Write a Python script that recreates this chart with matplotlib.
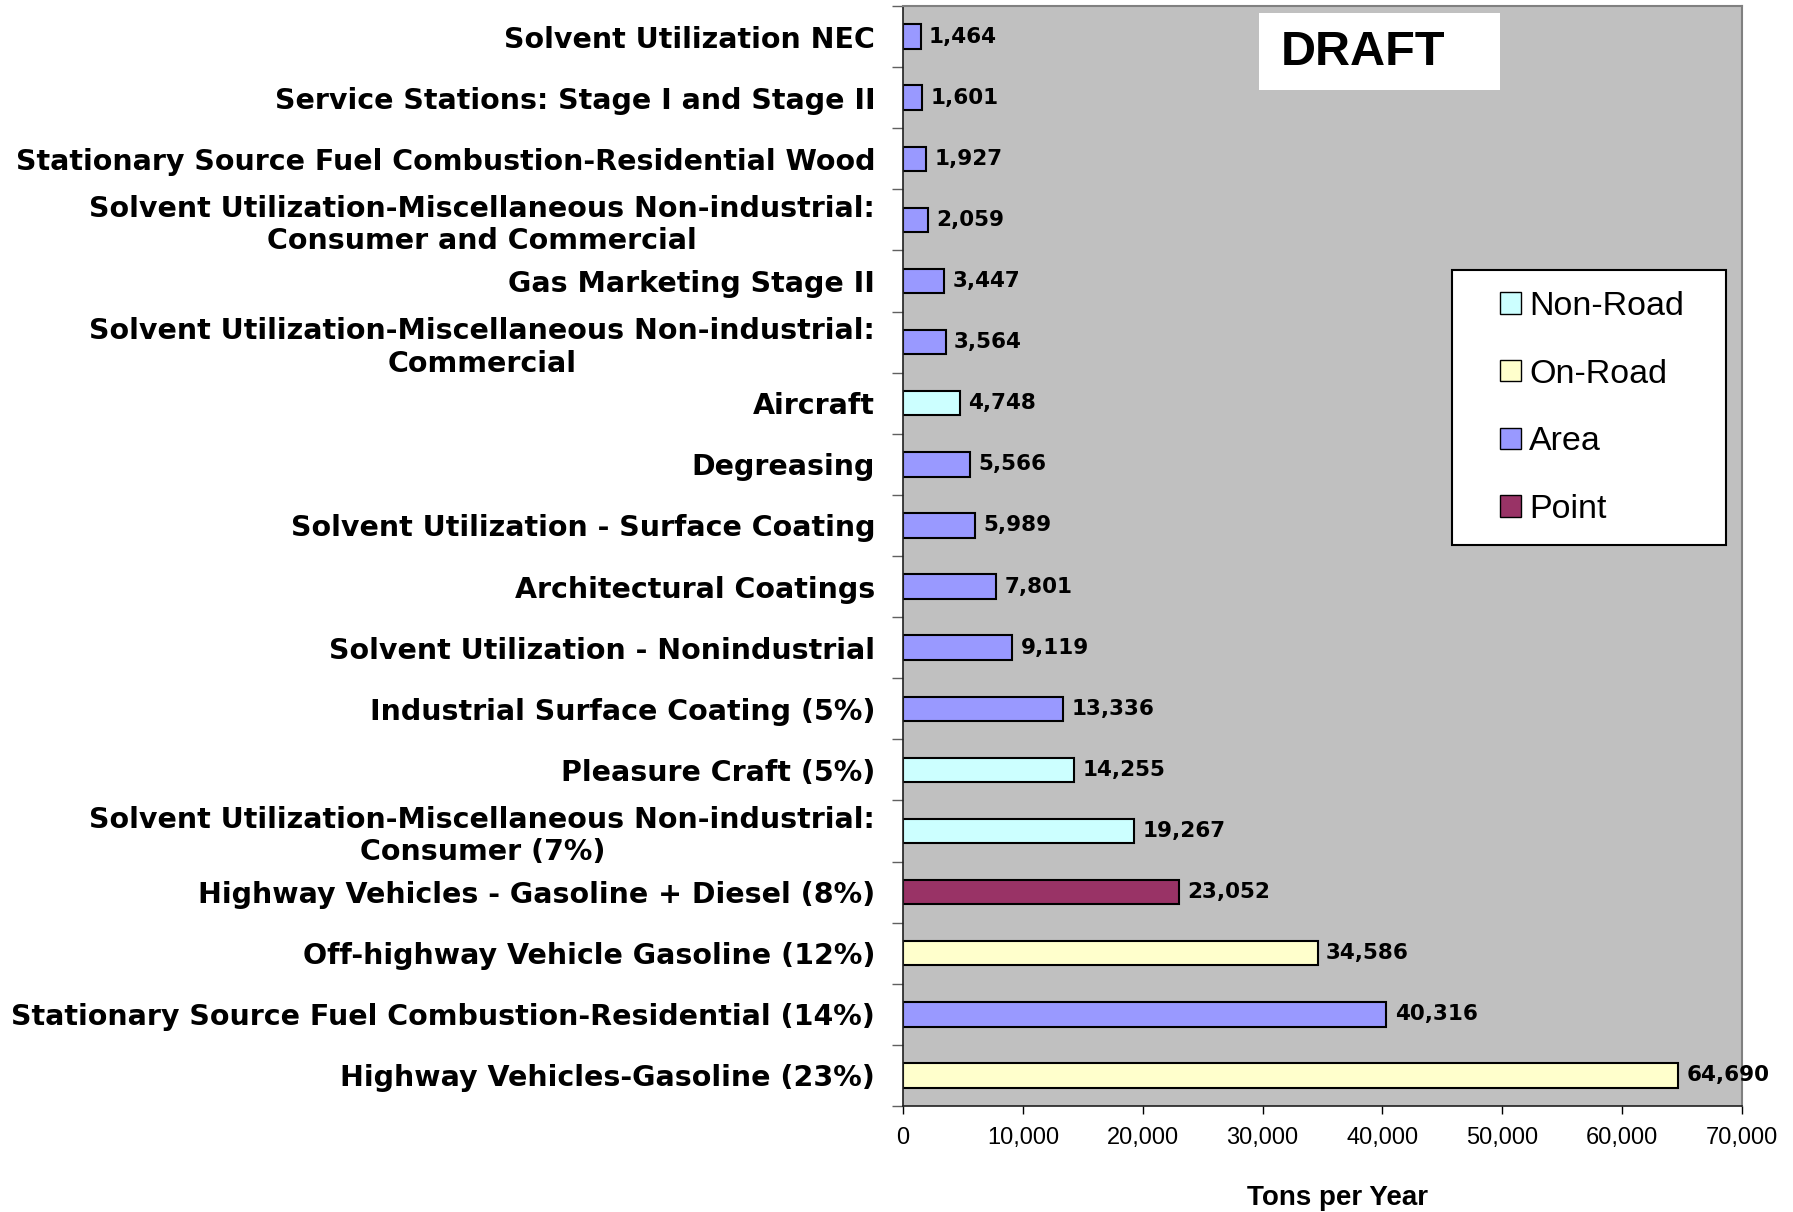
import matplotlib.pyplot as plt
from matplotlib.patches import Patch, Rectangle

# =========================
# Data (bottom to top)
# =========================
categories = [
    "Highway Vehicles-Gasoline (23%)",
    "Stationary Source Fuel Combustion-Residential (14%)",
    "Off-highway Vehicle Gasoline (12%)",
    "Highway Vehicles - Gasoline + Diesel (8%)",
    "Solvent Utilization-Miscellaneous Non-industrial:\nConsumer (7%)",
    "Pleasure Craft (5%)",
    "Industrial Surface Coating (5%)",
    "Solvent Utilization - Nonindustrial",
    "Architectural Coatings",
    "Solvent Utilization - Surface Coating",
    "Degreasing",
    "Aircraft",
    "Solvent Utilization-Miscellaneous Non-industrial:\nCommercial",
    "Gas Marketing Stage II",
    "Solvent Utilization-Miscellaneous Non-industrial:\nConsumer and Commercial",
    "Stationary Source Fuel Combustion-Residential Wood",
    "Service Stations: Stage I and Stage II",
    "Solvent Utilization NEC",
]
tons = [64690, 40316, 34586, 23052, 19267, 14255, 13336, 9119, 7801,
        5989, 5566, 4748, 3564, 3447, 2059, 1927, 1601, 1464]
sectors = ["On-Road", "Area", "On-Road", "Point", "Non-Road", "Non-Road",
           "Area", "Area", "Area", "Area", "Area", "Non-Road", "Area",
           "Area", "Area", "Area", "Area", "Area"]

legend_order = ["Non-Road", "On-Road", "Area", "Point"]
sector_colors = {
    "Non-Road": "#CCFFFF",
    "On-Road": "#FFFFCC",
    "Area": "#9999FF",
    "Point": "#993366",
}
x_ticks = [0, 10000, 20000, 30000, 40000, 50000, 60000, 70000]

plt.rcParams["font.family"] = ["Liberation Sans", "DejaVu Sans"]
WIDE = ["DejaVu Sans"]

# =========================
# Plot
# =========================
fig = plt.figure(figsize=(17.93, 12.12), dpi=100)
ax = fig.add_axes([0.5036, 0.0875, 0.468, 0.9075])
ax.set_facecolor("#C0C0C0")

y = list(range(len(categories)))
colors = [sector_colors[s] for s in sectors]
ax.barh(y, tons, height=0.4, color=colors, edgecolor="black", linewidth=1.5)

for yi, v in zip(y, tons):
    ax.text(v + 700, yi, f"{v:,}", va="center", ha="left",
            fontsize=15.5, fontweight="bold", color="black", family=WIDE)

ax.set_xlim(0, 70000)
ax.set_ylim(-0.5, len(categories) - 0.5)

ax.set_xticks(x_ticks)
ax.set_xticklabels([f"{t:,}" for t in x_ticks], fontsize=17)
ax.tick_params(axis="x", direction="out", length=6, width=1, pad=9)

ax.set_yticks(y)
ax.set_yticklabels(categories, fontsize=20.5, fontweight="bold", family=WIDE)
for lbl in ax.get_yticklabels():
    lbl.set_multialignment("center")
ax.tick_params(axis="y", which="major", length=0, pad=20)
ax.set_yticks([i + 0.5 for i in range(-1, len(categories))], minor=True)
ax.tick_params(axis="y", which="minor", direction="out", length=8, width=1,
               color="#606060")

for side in ["top", "right"]:
    ax.spines[side].set_color("#808080")
    ax.spines[side].set_linewidth(1.5)
for side in ["left", "bottom"]:
    ax.spines[side].set_color("#202020")
    ax.spines[side].set_linewidth(1.2)

fig.text(0.746, 0.001, "Tons per Year", ha="center", va="bottom",
         fontsize=20, fontweight="bold")

# DRAFT stamp
ax.add_patch(Rectangle((0.4243, 0.924), 0.2877, 0.0698, transform=ax.transAxes,
                       facecolor="white", edgecolor="none", zorder=3))
ax.text(0.450, 0.958, "DRAFT", transform=ax.transAxes, ha="left",
        va="center", fontsize=35, fontweight="bold", zorder=4)

# Legend (frame drawn separately to match the wide side padding)
ax.add_patch(Rectangle((0.6548, 0.5104), 0.3262, 0.2495, transform=ax.transAxes,
                       facecolor="white", edgecolor="black", linewidth=1.5,
                       zorder=4))
handles = [Patch(facecolor=sector_colors[s], edgecolor="black", label=s)
           for s in legend_order]
leg = ax.legend(handles=handles, loc="upper left",
                bbox_to_anchor=(0.712, 0.741), fontsize=24.5, frameon=False,
                labelspacing=1.08, handlelength=0.6, handleheight=0.6,
                handletextpad=0.25, borderpad=0, borderaxespad=0)
leg.set_zorder(5)

fig.savefig("out.png", dpi=100)
